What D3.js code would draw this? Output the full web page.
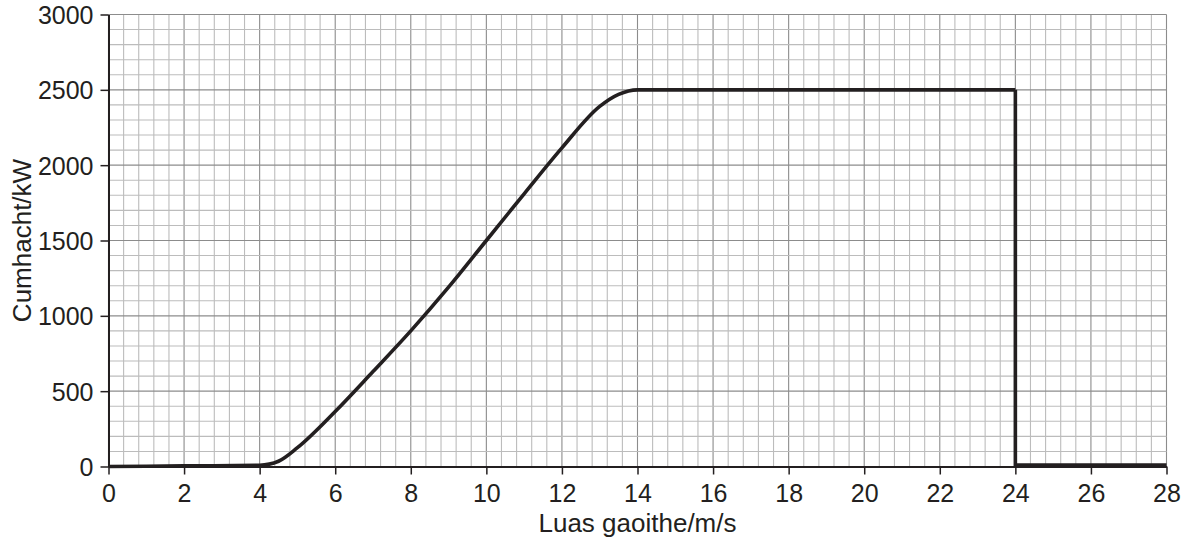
<!DOCTYPE html>
<html>
<head>
<meta charset="utf-8">
<script src="https://cdn.jsdelivr.net/npm/d3@7"></script>
<style>
  body { margin: 0; background: #fff; }
  svg { display: block; font-family: "Liberation Sans", Arial, sans-serif; }
</style>
</head>
<body>
<svg id="svg1" width="1186" height="541"></svg>
<script>
// wind speed (m/s) and power (kW)
var speeds = [0, 2, 4, 4.5, 5, 6, 7, 8, 9, 10, 11, 12, 13, 13.5, 14, 24, 24, 28];
var power  = [0, 4, 8, 35, 125, 365, 630, 900, 1190, 1500, 1810, 2115, 2390, 2470, 2500, 2500, 10, 10];

var xTicks = [0, 2, 4, 6, 8, 10, 12, 14, 16, 18, 20, 22, 24, 26, 28];
var yTicks = [0, 500, 1000, 1500, 2000, 2500, 3000];

var xTitle = 'Luas gaoithe/m/s';
var yTitle = 'Cumhacht/kW';

var width = 1186, height = 541;
var margin = {left: 108.5, right: 19.5, top: 14.5, bottom: 74.5};
var w = width - margin.left - margin.right;
var h = height - margin.top - margin.bottom;

var svg = d3.select('svg')
    .append('g')
    .attr('transform', 'translate(' + margin.left + ',' + margin.top + ')');

var x = d3.scaleLinear().domain([0, 28]).range([0, w]);
var y = d3.scaleLinear().domain([0, 3000]).range([h, 0]);

// minor grid: 0.4 m/s and 100 kW
var minorX = d3.range(0, 71).map(function (i) { return i * 0.4; });
var minorY = d3.range(0, 31).map(function (i) { return i * 100; });

svg.append('g').selectAll('line')
    .data(minorX)
    .enter().append('line')
    .attr('x1', function (d) { return x(d); })
    .attr('x2', function (d) { return x(d); })
    .attr('y1', 0).attr('y2', h)
    .attr('stroke', function (d, i) { return i % 5 === 0 ? '#8c8c8c' : '#bcbcbc'; })
    .attr('stroke-width', 1.1);

svg.append('g').selectAll('line')
    .data(minorY)
    .enter().append('line')
    .attr('y1', function (d) { return y(d); })
    .attr('y2', function (d) { return y(d); })
    .attr('x1', 0).attr('x2', w)
    .attr('stroke', function (d, i) { return i % 5 === 0 ? '#8c8c8c' : '#bcbcbc'; })
    .attr('stroke-width', 1.1);

// axes
var xAxis = svg.append('g')
    .attr('transform', 'translate(0,' + h + ')')
    .call(d3.axisBottom(x).tickValues(xTicks).tickFormat(d3.format('d'))
        .tickSize(8).tickSizeOuter(0).tickPadding(10));

var yAxis = svg.append('g')
    .call(d3.axisLeft(y).tickValues(yTicks).tickFormat(d3.format('d'))
        .tickSize(8).tickSizeOuter(0).tickPadding(7));

[xAxis, yAxis].forEach(function (a) {
    a.select('.domain').attr('stroke', '#231f20').attr('stroke-width', 2);
    a.selectAll('.tick line').attr('stroke', '#231f20').attr('stroke-width', 1.5);
    a.selectAll('.tick text')
        .attr('fill', '#231f20')
        .style('font-size', '25px')
        .style('font-family', '"Liberation Sans", Arial, sans-serif');
});
yAxis.selectAll('.tick text').attr('dy', '0.36em');

// power curve
var pts = speeds.map(function (s, i) { return [s, power[i]]; });
var rising = pts.slice(0, 16);   // up to the end of the flat top at 24 m/s
var cutoff = pts.slice(15);      // drop at 24 m/s and the zero line after

var line = d3.line()
    .x(function (d) { return x(d[0]); })
    .y(function (d) { return y(d[1]); });

svg.append('path')
    .datum(rising)
    .attr('d', line.curve(d3.curveMonotoneX))
    .attr('fill', 'none')
    .attr('stroke', '#231f20')
    .attr('stroke-width', 3.6);

svg.append('path')
    .datum(cutoff)
    .attr('d', line.curve(d3.curveLinear))
    .attr('fill', 'none')
    .attr('stroke', '#231f20')
    .attr('stroke-width', 3.6)
    .attr('stroke-linejoin', 'miter');

// axis titles
svg.append('text')
    .attr('x', w / 2)
    .attr('y', h + 65.5)
    .attr('text-anchor', 'middle')
    .attr('fill', '#231f20')
    .style('font-size', '26px')
    .text(xTitle);

svg.append('text')
    .attr('transform', 'translate(' + (-77.5) + ',' + (h / 2) + ') rotate(-90)')
    .attr('text-anchor', 'middle')
    .attr('fill', '#231f20')
    .style('font-size', '26px')
    .text(yTitle);
</script>
</body>
</html>
